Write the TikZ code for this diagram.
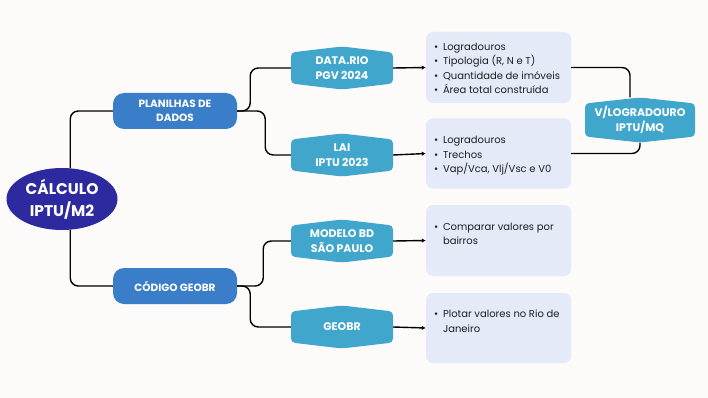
\documentclass[tikz,border=0pt]{standalone}
\usepackage{fontspec}
\setmainfont{Poppins}
\usepackage{tikz}
\usetikzlibrary{shapes.geometric, arrows.meta, positioning, calc}
\definecolor{bgpaper}{RGB}{252,251,249}
\definecolor{myindigo}{RGB}{44,42,158}
\definecolor{myblue}{RGB}{58,125,200}
\definecolor{myaqua}{RGB}{64,166,204}
\definecolor{mypale}{RGB}{228,234,247}
\definecolor{mytext}{RGB}{30,30,36}
\newcommand{\bul}[1]{\makebox[9pt][l]{\textbullet}#1}
\tikzset{
  rootnode/.style={ellipse, fill=myindigo, text=white, minimum width=111pt,
    minimum height=62pt, align=center, inner sep=0pt,
    font=\fontsize{15.5}{22}\selectfont\bfseries},
  pillbox/.style={rectangle, rounded corners=11pt, fill=myblue, text=white,
    minimum width=124pt, minimum height=36pt, align=center,
    font=\fontsize{10.5}{14}\selectfont\bfseries},
  hexbox/.style={rectangle, minimum width=102pt, minimum height=43pt,
    align=center, text=white, font=\fontsize{11}{15}\selectfont\bfseries,
    path picture={\fill[myaqua, rounded corners=4pt]
      ([yshift=-6pt]path picture bounding box.north west) -- (path picture bounding box.north)
      -- ([yshift=-6pt]path picture bounding box.north east) -- ([yshift=6pt]path picture bounding box.south east)
      -- (path picture bounding box.south) -- ([yshift=6pt]path picture bounding box.south west) -- cycle;}},
  infobox/.style={rectangle, rounded corners=7pt, fill=mypale,
    minimum width=145pt, minimum height=71pt},
  listtext/.style={align=left, inner sep=0pt, text=mytext,
    font=\fontsize{10}{14.5}\selectfont},
  conn/.style={draw=black, line width=1.4pt, rounded corners=8pt},
  arrow/.style={draw=black, line width=1.4pt, -{Latex[length=4pt,width=4.5pt]}}
}
\begin{document}
\begin{tikzpicture}[x=1pt, y=-1pt]
  \fill[bgpaper] (0,0) rectangle (708,398);
  \useasboundingbox (0,0) rectangle (708,398);

  % Root
  \node[rootnode] (root) at (62,199) {CÁLCULO\\IPTU/M2};

  % First level
  \node[pillbox] (plan) at (175,111) {PLANILHAS DE\\DADOS};
  \node[pillbox] (geo) at (175,286) {CÓDIGO GEOBR};

  % Sources
  \node[hexbox] (datario) at (342,68) {DATA.RIO\\PGV 2024};
  \node[hexbox] (lai) at (342,155) {LAI\\IPTU 2023};
  \node[hexbox] (modelo) at (342,241) {MODELO BD\\SÃO PAULO};
  \node[hexbox] (geobr) at (342,327) {GEOBR};

  % Detail boxes
  \node[infobox] (b1) at (498.5,67.5) {};
  \node[infobox, minimum height=70pt] (b2) at (498.5,153.5) {};
  \node[infobox] (b3) at (498.5,240.5) {};
  \node[infobox, minimum height=70pt] (b4) at (498.5,328) {};
  \node[listtext, below right=11pt and 8pt of b1.north west] (t1) {\bul{Logradouros}\\\bul{Tipologia (R, N e T)}\\\bul{Quantidade de imóveis}\\\bul{Área total construída}};
  \node[listtext, below right=18pt and 8pt of b2.north west] (t2) {\bul{Logradouros}\\\bul{Trechos}\\\bul{Vap/Vca, Vlj/Vsc e V0}};
  \node[listtext, below right=18pt and 8pt of b3.north west] (t3) {\bul{Comparar valores por}\\\hspace*{9pt}bairros};
  \node[listtext, below right=17pt and 8pt of b4.north west] (t4) {\bul{Plotar valores no Rio de}\\\hspace*{9pt}Janeiro};

  % Result
  \node[hexbox, minimum width=110pt, minimum height=45pt] (vlog) at (640,120) {V/LOGRADOURO\\IPTU/MQ};

  % Connectors
  \draw[conn] (root.75) |- (plan.west);
  \draw[conn] (root.-75) |- (geo.west);
  \draw[conn] (plan.east) -- ++(13,0) |- (datario.west);
  \draw[conn] (plan.east) -- ++(28,0) |- (lai.west);
  \draw[conn] (geo.east) -- ++(26,0) |- (modelo.west);
  \draw[conn] (geo.east) -- ++(13,0) |- (geobr.west);
  \draw[arrow] (datario.east) -- (b1.west);
  \draw[arrow] (lai.east) -- (b2.west);
  \draw[arrow] (modelo.east) -- (b3.west);
  \draw[arrow] (geobr.east) -- (b4.west);
  \draw[conn] (b1.east) -| ([xshift=-10pt]vlog.north);
  \draw[conn] (b2.east) -| (vlog.south);
\end{tikzpicture}
\end{document}
